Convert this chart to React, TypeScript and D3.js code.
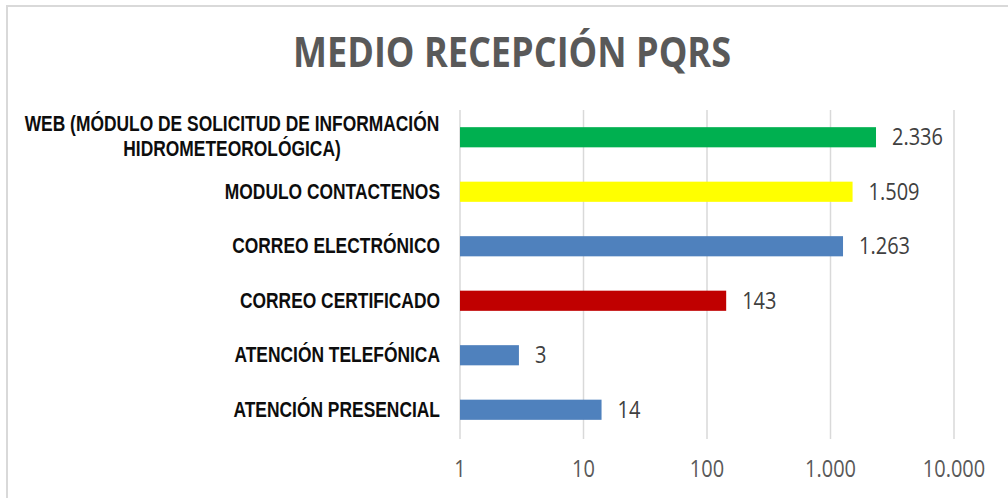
import React from 'react';
import * as d3 from 'd3';

const categories = [
  'WEB (MÓDULO DE SOLICITUD DE INFORMACIÓN HIDROMETEOROLÓGICA)',
  'MODULO CONTACTENOS',
  'CORREO ELECTRÓNICO',
  'CORREO CERTIFICADO',
  'ATENCIÓN TELEFÓNICA',
  'ATENCIÓN PRESENCIAL',
];
const labelLines = [
  ['WEB (MÓDULO DE SOLICITUD DE INFORMACIÓN', 'HIDROMETEOROLÓGICA)'],
  ['MODULO CONTACTENOS'],
  ['CORREO ELECTRÓNICO'],
  ['CORREO CERTIFICADO'],
  ['ATENCIÓN TELEFÓNICA'],
  ['ATENCIÓN PRESENCIAL'],
];
const values = [2336, 1509, 1263, 143, 3, 14];
const barColors = ['#00B050', '#FFFF00', '#4F81BD', '#C00000', '#4F81BD', '#4F81BD'];
const ticks = [1, 10, 100, 1000, 10000];
const tickLabels = ['1', '10', '100', '1.000', '10.000'];
const valueLabels = ['2.336', '1.509', '1.263', '143', '3', '14'];

const W = 1008;
const H = 498;
const margin = { top: 110, left: 460, right: 54, bottom: 61 };

const App: React.FC = () => {
  const x = d3
    .scaleLog()
    .domain([1, 10000])
    .range([margin.left, W - margin.right]);
  const y = d3
    .scaleBand()
    .domain(categories)
    .range([margin.top, H - margin.bottom])
    .paddingInner(0.63)
    .paddingOuter(0.315);

  // no narrow font installed, so squeeze Liberation Sans horizontally
  const labelFont = "'Liberation Sans', Arial, sans-serif";
  const labelScale = 'scale(0.87,1.08)';
  const numFont = "'Open Sans', sans-serif";
  // reference text is a bit taller than it is wide
  const numScale = 'scale(1,1.22)';

  return (
    <svg width={W} height={H} style={{ position: 'absolute', left: 0, top: 0, background: '#fff' }}>
      <rect x={7} y={6} width={W + 10} height={H + 10} fill="#fff" stroke="#d9d9d9" strokeWidth={2} />
      <text
        x={512}
        y={67}
        textAnchor="middle"
        fontFamily={numFont}
        fontWeight="bold"
        fontSize={42}
        fill="#595959"
        textLength={438}
        lengthAdjust="spacingAndGlyphs"
      >
        MEDIO RECEPCIÓN PQRS
      </text>

      {ticks.map((t, i) => (
        <g key={t}>
          <line x1={x(t)} x2={x(t)} y1={margin.top} y2={H - margin.bottom + 2} stroke="#d9d9d9" strokeWidth={1.5} />
          <text
            transform={`translate(${x(t)},477) ${numScale}`}
            textAnchor="middle"
            fontFamily={numFont}
            fontSize={20}
            fill="#595959"
          >
            {tickLabels[i]}
          </text>
        </g>
      ))}

      {categories.map((c, i) => {
        const cy = (y(c) || 0) + y.bandwidth() / 2;
        const lines = labelLines[i];
        const end = x(values[i]);
        return (
          <g key={c}>
            <rect x={x(1)} y={y(c)} width={end - x(1)} height={y.bandwidth()} fill={barColors[i]} />
            <text
              transform={`translate(${end + 16},${cy + 8}) ${numScale}`}
              fontFamily={numFont}
              fontSize={20}
              fill="#404040"
            >
              {valueLabels[i]}
            </text>
            {lines.length === 1 ? (
              <text
                transform={`translate(440,${cy + 7}) ${labelScale}`}
                textAnchor="end"
                fontFamily={labelFont}
                fontWeight="bold"
                fontSize={20}
                fill="#0d0d0d"
              >
                {lines[0]}
              </text>
            ) : (
              lines.map((l, j) => (
                <text
                  key={j}
                  transform={`translate(232,${cy - 6 + j * 25}) ${labelScale}`}
                  textAnchor="middle"
                  fontFamily={labelFont}
                  fontWeight="bold"
                  fontSize={20}
                  fill="#0d0d0d"
                >
                  {l}
                </text>
              ))
            )}
          </g>
        );
      })}
    </svg>
  );
};

export default App;
